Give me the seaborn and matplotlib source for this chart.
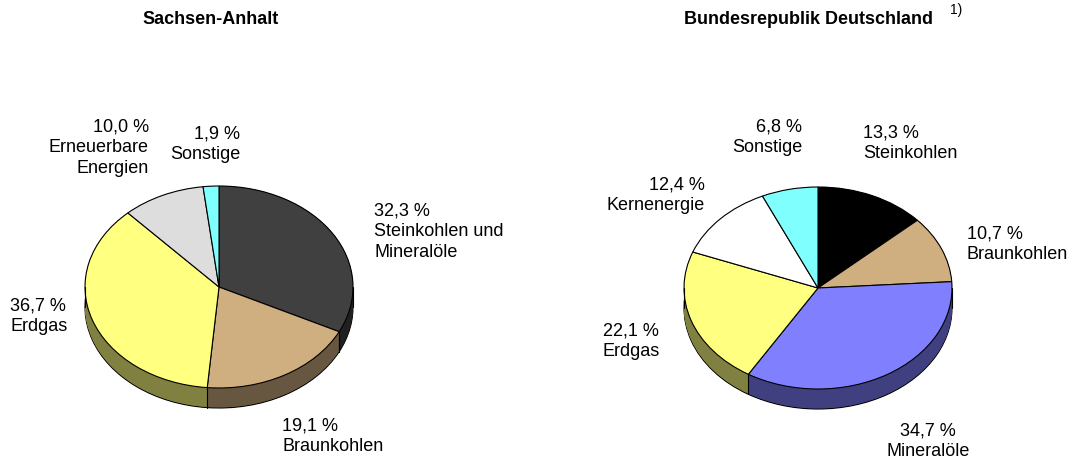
import numpy as np
import matplotlib
matplotlib.use("Agg")
import matplotlib.pyplot as plt
import seaborn as sns
from matplotlib.colors import to_rgb

# data
st_labels = ["Steinkohlen und\nMineralöle", "Braunkohlen", "Erdgas",
             "Erneuerbare\nEnergien", "Sonstige"]
st_values = [32.3, 19.1, 36.7, 10.0, 1.9]
st_colors = ["#404040", "#CFAE7F", "#FFFF80", "#DDDDDD", "#80FFFF"]

de_labels = ["Steinkohlen", "Braunkohlen", "Mineralöle", "Erdgas",
             "Kernenergie", "Sonstige"]
de_values = [13.3, 10.7, 34.7, 22.1, 12.4, 6.8]
de_colors = ["#000000", "#CFAE7F", "#8080FF", "#FFFF80", "#FFFFFF", "#80FFFF"]

sns.set_theme(style="white")
plt.rcParams["font.family"] = ["Liberation Sans", "DejaVu Sans"]
plt.rcParams["text.color"] = "black"

W, H = 1077, 462
fig = plt.figure(figsize=(W / 100, H / 100), dpi=100)

RX, RY, DEPTH = 134, 101, 20
FS = 13


def make_ax(x0, x1, cx, cy):
    ax = fig.add_axes([x0 / W, 0, (x1 - x0) / W, 1])
    ax.axis("off")
    lims = ((x0 - cx) / RX, (x1 - cx) / RX), ((cy - H) / RY, cy / RY)
    return ax, lims


def pie3d(ax, values, colors, lims):
    d = DEPTH / RY
    dark = [tuple(c * 0.5 for c in to_rgb(col)) for col in colors]
    # bottom outline
    ax.pie(values, colors=dark, startangle=90, counterclock=False,
           center=(0, -d), wedgeprops=dict(edgecolor="black", linewidth=0.8))
    for off in np.linspace(-d, 0, 30)[1:]:
        ax.pie(values, colors=dark, startangle=90, counterclock=False,
               center=(0, off), wedgeprops=dict(edgecolor="none", linewidth=0))
    # side edges
    cum = np.cumsum(values)
    theta = np.deg2rad(90 - 3.6 * cum)
    for t in theta:
        if np.sin(t) < 0:
            ax.plot([np.cos(t)] * 2, [np.sin(t), np.sin(t) - d],
                    color="black", lw=0.8)
    ax.plot([-1, -1], [0, -d], color="black", lw=0.8)
    ax.plot([1, 1], [0, -d], color="black", lw=0.8)
    ax.pie(values, colors=colors, startangle=90, counterclock=False,
           center=(0, 0), wedgeprops=dict(edgecolor="black", linewidth=0.8))
    ax.set_xlim(lims[0])
    ax.set_ylim(lims[1])
    ax.set_aspect("auto")


def label(ax, px, py, cx, cy, txt, ha):
    ax.text((px - cx) / RX, (cy - py) / RY, txt, ha=ha, va="center",
            multialignment=ha, fontsize=FS, linespacing=1.3, color="black")


fmt = lambda v: f"{v:.1f} %".replace(".", ",")

# left: Sachsen-Anhalt
cxl, cyl = 219, 287
axl, lims = make_ax(0, 538, cxl, cyl)
pie3d(axl, st_values, st_colors, lims)

label(axl, 374, 232, cxl, cyl, f"{fmt(st_values[0])}\n{st_labels[0]}", "left")
label(axl, 282, 436, cxl, cyl, f"{fmt(st_values[1])}\n{st_labels[1]}", "left")
label(axl, 10, 316, cxl, cyl, f"{fmt(st_values[2])}\n{st_labels[2]}", "left")
label(axl, 149, 148, cxl, cyl, f"{fmt(st_values[3])}\n{st_labels[3]}", "right")
label(axl, 240, 144, cxl, cyl, f"{fmt(st_values[4])}\n{st_labels[4]}", "right")
fig.text(211 / W, 1 - 20 / H, "Sachsen-Anhalt", ha="center", va="center",
         fontsize=FS, fontweight="bold", color="black")

# right: Bundesrepublik Deutschland
cxr, cyr = 818, 288
axr, lims = make_ax(538, 1077, cxr, cyr)
pie3d(axr, de_values, de_colors, lims)

label(axr, 863, 143, cxr, cyr, f"{fmt(de_values[0])}\n{de_labels[0]}", "left")
label(axr, 967, 244, cxr, cyr, f"{fmt(de_values[1])}\n{de_labels[1]}", "left")
label(axr, 928, 441, cxr, cyr, f"{fmt(de_values[2])}\n{de_labels[2]}", "center")
label(axr, 603, 341, cxr, cyr, f"{fmt(de_values[3])}\n{de_labels[3]}", "left")
label(axr, 705, 195, cxr, cyr, f"{fmt(de_values[4])}\n{de_labels[4]}", "right")
label(axr, 802, 137, cxr, cyr, f"{fmt(de_values[5])}\n{de_labels[5]}", "right")
fig.text(808 / W, 1 - 20 / H, "Bundesrepublik Deutschland", ha="center",
         va="center", fontsize=FS, fontweight="bold", color="black")
fig.text(950 / W, 1 - 10 / H, "1)", ha="left", va="center", fontsize=10,
         color="black")

fig.savefig("out.png", dpi=100)
